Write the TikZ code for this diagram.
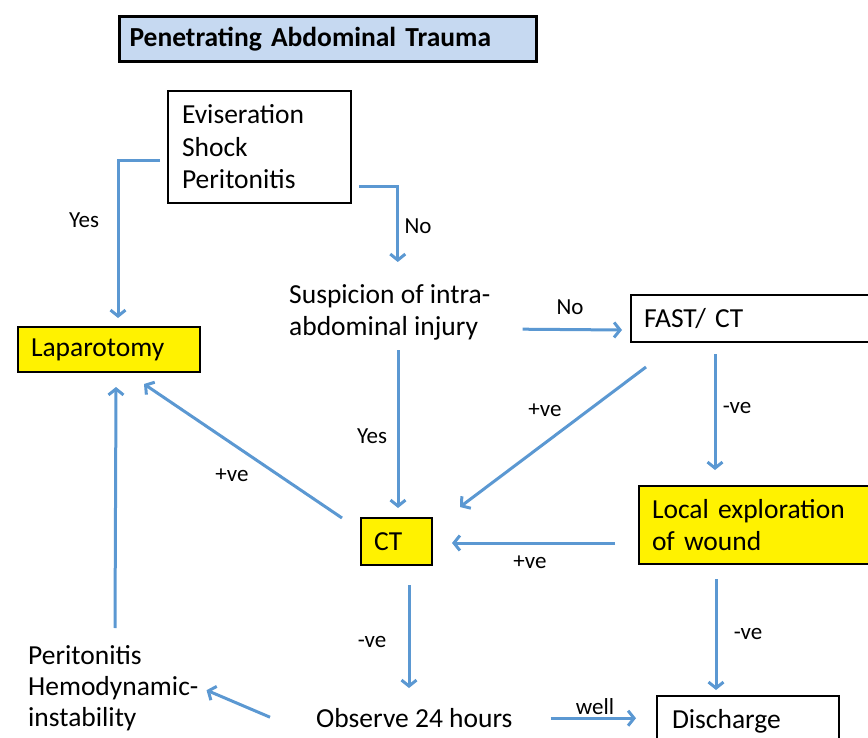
\documentclass[tikz,border=0pt]{standalone}
\usepackage{fontspec}
\setmainfont{Carlito}
\usetikzlibrary{arrows.meta}
\definecolor{flowblue}{RGB}{91,152,210}
\definecolor{titleblue}{RGB}{198,217,241}

\begin{document}
\begin{tikzpicture}[x = 1pt, y = -1pt,
    box/.style = {draw, line width = 2pt, anchor = north west, inner ysep = 0pt, align = left},
    big/.style = {font = \fontsize{27.5}{32.5}\selectfont},
    lbl/.style = {font = \fontsize{23}{25}\selectfont, inner sep = 0pt},
    flow/.style = {draw = flowblue, line width = 3pt, -{Straight Barb[length = 6pt, width = 15pt]}}]
    \useasboundingbox (0,0) rectangle (868,738);
    \clip (0,0) rectangle (868,738);

    \node (title) at (118, 15) [box, line width = 3pt, fill = titleblue, minimum width = 417, minimum height = 45, inner xsep = 10pt, text width = 397pt, font = \fontsize{27.5}{30}\selectfont\bfseries] {Penetrating Abdominal Trauma};
    \node (evis)  at (167, 90) [box, big, minimum width = 183, minimum height = 112, inner xsep = 14pt, text width = 155pt] {Eviseration\\Shock\\Peritonitis};
    \node (susp)  at (289,272) [big, anchor = north west, align = left, inner sep = 0pt, minimum height = 80] {Suspicion of intra-\\abdominal injury};
    \node (fast)  at (630,294) [box, big, minimum width = 270, minimum height = 47, inner xsep = 13pt, text width = 244pt] {FAST/ CT};
    \node (lap)   at ( 17,326) [box, big, fill = yellow, minimum width = 182, minimum height = 45, inner xsep = 13pt, text width = 156pt] {Laparotomy};
    \node (ct)    at (360,517) [box, big, fill = yellow, minimum width = 71, minimum height = 47, inner xsep = 13pt, text width = 45pt] {CT};
    \node (local) at (638,485) [box, big, fill = yellow, minimum width = 270, minimum height = 78, inner xsep = 13pt, text width = 244pt] {Local exploration\\of wound};
    \node (perit) at ( 28,640) [font = \fontsize{27.5}{31}\selectfont, anchor = north west, align = left, inner sep = 0pt, minimum height = 96] {Peritonitis\\Hemodynamic-\\instability};
    \node (obs)   at (316,698) [big, anchor = north west, inner sep = 0pt, minimum height = 40] {Observe 24 hours};
    \node (disc)  at (656,695) [box, big, minimum width = 182, minimum height = 50, inner xsep = 15pt, text width = 152pt] {Discharge};

    % connectors
    \draw [flow] ([shift = {(-7, 14)}]evis.west) -| ([shift = {(9, -8)}]lap.north);
    \draw [flow] ([shift = {(7, 40)}]evis.east) -| ([shift = {(8, -10)}]susp.north);
    \draw [flow] ([shift = {(32, 17)}]susp.east) -- ([shift = {(-8, 11.5)}]fast.west);
    \draw [flow] ([shift = {(1.5, -2)}]susp.south -| ct.north) -- ([shift = {(1.5, -9)}]ct.north);
    \draw [flow] ([shift = {(16, 24)}]fast.south west) -- ([shift = {(27, -10)}]ct.north east);
    \draw [flow] ([shift = {(85, 11)}]fast.south west) -- ([shift = {(77, -15)}]local.north west);
    \draw [flow] ([shift = {(-23, 18)}]local.west) -- ([shift = {(19, 1.5)}]ct.east);
    \draw [flow] ([shift = {(-18, 1)}]ct.north west) -- ([shift = {(35, 11)}]lap.south);
    \draw [flow] ([shift = {(12.5, 19)}]ct.south) coordinate (ctout) -- ([yshift = 10pt]obs.north -| ctout);
    \draw [flow] ([shift = {(78, 14)}]local.south west) -- ([shift = {(60, -5)}]disc.north west);
    \draw [flow] ([shift = {(87, -12)}]perit.north west) -- ([shift = {(7, 14)}]lap.south);
    \draw [flow] ([shift = {(-46, -1)}]obs.west) -- ([shift = {(8, 2)}]perit.east);
    \draw [flow] ([xshift = 38pt]obs.east) -- ([xshift = -20pt]disc.west |- obs.east);

    % labels
    \node (yes1)  at ( 84,220) [lbl] {Yes};
    \node (no1)   at (418,226) [lbl] {No};
    \node (no2)   at (570,307) [lbl] {No};
    \node (yes2)  at (372,436) [lbl] {Yes};
    \node (pos1)  at (545,410) [lbl] {+ve};
    \node (neg1)  at (737,408) [lbl] {-ve};
    \node (pos2)  at (530,562) [lbl] {+ve};
    \node (pos3)  at (232,475) [lbl] {+ve};
    \node (neg2)  at (372,642) [lbl] {-ve};
    \node (neg3)  at (748,634) [lbl] {-ve};
    \node (well)  at (595,707) [lbl] {well};
\end{tikzpicture}
\end{document}
